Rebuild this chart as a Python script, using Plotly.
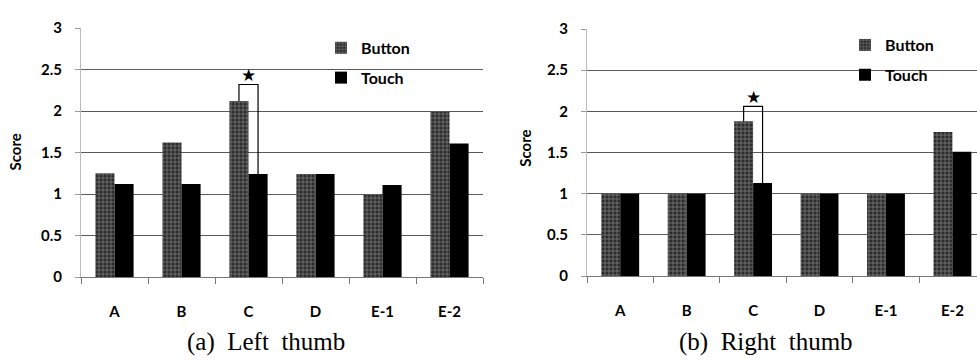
import plotly.graph_objects as go

categories = ["A", "B", "C", "D", "E-1", "E-2"]
left_button = [1.25, 1.62, 2.12, 1.24, 0.99, 1.99]
left_touch = [1.12, 1.12, 1.24, 1.24, 1.11, 1.61]
right_button = [1.0, 1.0, 1.88, 1.0, 1.0, 1.75]
right_touch = [1.0, 1.0, 1.13, 1.0, 1.0, 1.51]
yticks = [0, 0.5, 1, 1.5, 2, 2.5, 3]
ytick_labels = ["0", "0.5", "1", "1.5", "2", "2.5", "3"]
sig_category = "C"
sig_top_left = 2.32
sig_top_right = 2.06
captions = ["(a)\u00a0 Left\u00a0 thumb", "(b)\u00a0 Right\u00a0 thumb"]

W, H = 977, 362
BARGAP = 0.43
BOLD = dict(family="Lato", size=15, color="black", weight="bold")

def px_x(p):
    return p / W

def px_y(p):
    return 1 - p / H

button_marker = dict(
    color="#2b2b2b",
    line=dict(width=0),
    pattern=dict(shape="+", fgcolor="#c8c8c8", size=4, solidity=0.35, fillmode="overlay"),
)
touch_marker = dict(color="black", line=dict(width=0))

fig = go.Figure()
fig.add_trace(go.Bar(x=categories, y=left_button, name="Button", marker=button_marker,
                     xaxis="x", yaxis="y", legend="legend", legendgroup="b1"))
fig.add_trace(go.Bar(x=categories, y=left_touch, name="Touch", marker=touch_marker,
                     xaxis="x", yaxis="y", legend="legend", legendgroup="t1"))
fig.add_trace(go.Bar(x=categories, y=right_button, name="Button", marker=button_marker,
                     xaxis="x2", yaxis="y2", legend="legend2", legendgroup="b2"))
fig.add_trace(go.Bar(x=categories, y=right_touch, name="Touch", marker=touch_marker,
                     xaxis="x2", yaxis="y2", legend="legend2", legendgroup="t2"))

def xaxis(domain, rng):
    return dict(domain=domain, range=rng, type="category", tickson="boundaries",
                ticks="outside", ticklen=6, tickcolor="#777", tickwidth=1,
                showline=True, linecolor="#777", linewidth=1, showgrid=False,
                tickfont=BOLD, ticklabelstandoff=21, fixedrange=True)

def yaxis(domain, anchor):
    return dict(domain=domain, range=[0, 3], anchor=anchor, tickvals=yticks, ticktext=ytick_labels,
                ticks="outside", ticklen=5, tickcolor="#999", showline=True, linecolor="#bbb",
                linewidth=1, showgrid=True, gridcolor="#5a5a5a", gridwidth=1, zeroline=False,
                tickfont=BOLD, ticklabelstandoff=10, fixedrange=True)

ydom1 = [px_y(281), px_y(19)]
ydom2 = [px_y(280), px_y(20)]

LEGFONT = dict(family="Lato", size=16, color="black", weight="bold")

fig.update_layout(
    width=W, height=H, margin=dict(l=0, r=0, t=0, b=0),
    paper_bgcolor="white", plot_bgcolor="white",
    barmode="group", bargap=BARGAP, bargroupgap=0,
    xaxis=dict(xaxis([px_x(81), px_x(483)], [-0.5, 5.5]), anchor="y"),
    yaxis=yaxis(ydom1, "x"),
    xaxis2=dict(xaxis([px_x(587), 1.0], [-0.5, 5.37]), anchor="y2"),
    yaxis2=yaxis(ydom2, "x2"),
    legend=dict(x=px_x(321), y=px_y(22), xanchor="left", yanchor="top",
                font=LEGFONT, bgcolor="rgba(0,0,0,0)", traceorder="grouped",
                tracegroupgap=6, itemwidth=30),
    legend2=dict(x=px_x(845), y=px_y(19), xanchor="left", yanchor="top",
                 font=LEGFONT, bgcolor="rgba(0,0,0,0)", traceorder="grouped",
                 tracegroupgap=6, itemwidth=30),
    showlegend=True,
)

# significance brackets
half = (1 - BARGAP) / 4
ci = categories.index(sig_category)
for xr, yr, btn, tch, top in [("x", "y", left_button, left_touch, sig_top_left),
                               ("x2", "y2", right_button, right_touch, sig_top_right)]:
    x0 = ci - half
    x1 = ci + half
    fig.add_shape(type="path", xref=xr, yref=yr,
                  path=f"M {x0} {btn[ci]} L {x0} {top} L {x1} {top} L {x1} {tch[ci]}",
                  line=dict(color="black", width=1.2))
    fig.add_annotation(x=ci, y=top, xref=xr, yref=yr, text="★", showarrow=False,
                       yanchor="bottom", yshift=-4, font=dict(size=17, color="black"))

# axis titles
TITLEFONT = dict(family="Lato", size=15, color="black", weight="bold")
fig.add_annotation(x=px_x(15), y=px_y(150), xref="paper", yref="paper", text="Score",
                   xanchor="center", yanchor="middle",
                   textangle=-90, showarrow=False, font=TITLEFONT)
fig.add_annotation(x=px_x(525), y=px_y(146), xref="paper", yref="paper", text="Score",
                   xanchor="center", yanchor="middle",
                   textangle=-90, showarrow=False, font=TITLEFONT)

# captions
CAPFONT = dict(family="Liberation Serif", size=25, color="black")
fig.add_annotation(x=px_x(266), y=px_y(349), xref="paper", yref="paper", text=captions[0],
                   xanchor="center", yanchor="middle", showarrow=False, font=CAPFONT)
fig.add_annotation(x=px_x(766), y=px_y(349), xref="paper", yref="paper", text=captions[1],
                   xanchor="center", yanchor="middle", showarrow=False, font=CAPFONT)

fig.write_html("out.html")
